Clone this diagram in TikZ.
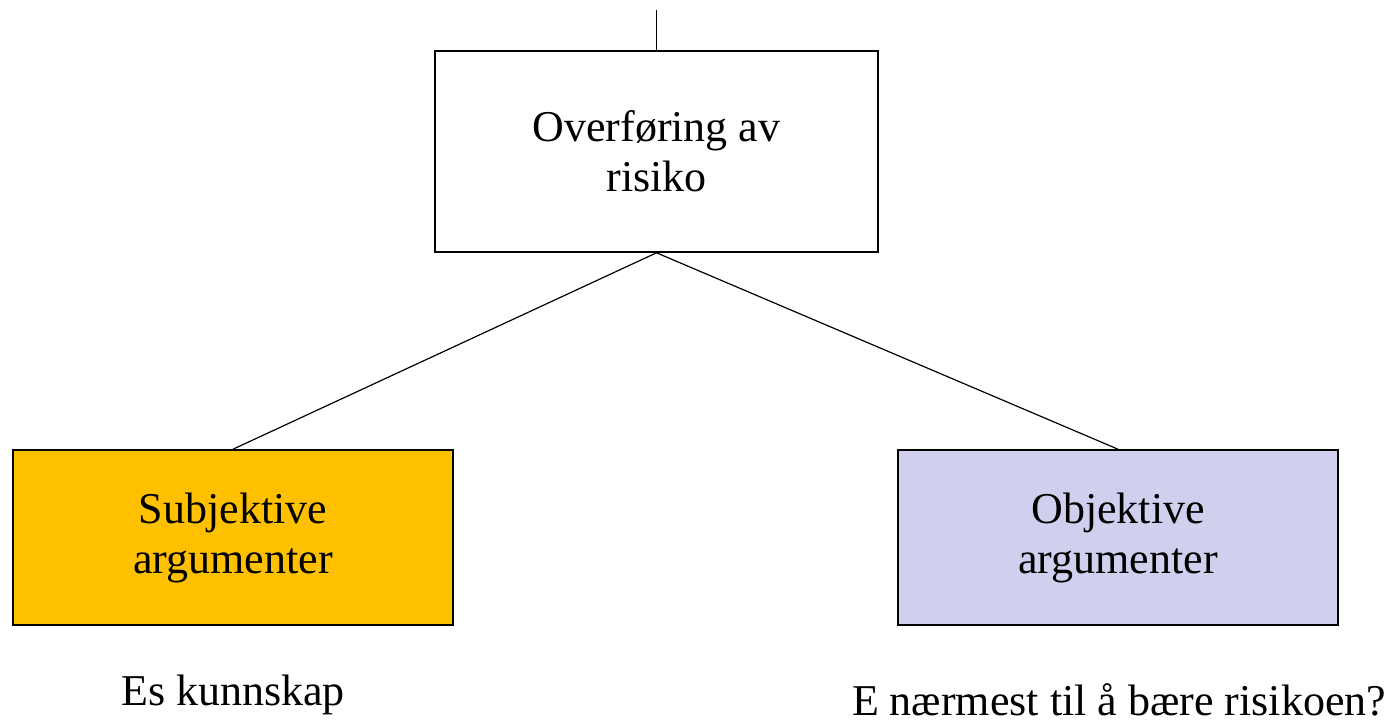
\documentclass[tikz,border=0pt]{standalone}
\usepackage{fontspec}
\setmainfont{Liberation Serif}
\usepackage{tikz}
\usetikzlibrary{positioning}
\definecolor{subjgold}{RGB}{255,192,0}
\definecolor{objlav}{RGB}{208,208,238}
\tikzset{
  main box/.style={rectangle,draw,thick,align=center,inner sep=0pt,
    font=\fontsize{22}{25}\selectfont},
  note/.style={font=\fontsize{22}{25}\selectfont,anchor=base,inner sep=0pt}
}
\begin{document}
\begin{tikzpicture}[x=0.5pt,y=-0.5pt,line width=0.6pt]
  \useasboundingbox (0,0) rectangle (1394,724);
  \node [main box,minimum width=221.5pt,minimum height=100.5pt] (risk) at (656.5,151.5) {Overføring av\\risiko};
  \node [main box,fill=subjgold,minimum width=220pt,minimum height=87.5pt] (subj) at (233,537.5) {Subjektive\\argumenter};
  \node [main box,fill=objlav,minimum width=220pt,minimum height=87.5pt] (obj) at (1118,537.5) {Objektive\\argumenter};
  \coordinate (top) at (656.5,10);
  % connectors
  \draw (top) -- (risk.north);
  \draw (risk.south) -- (subj.north);
  \draw (risk.south) -- (obj.north);
  % notes under the boxes
  \node [note] (know) at (233,705) {Es kunnskap};
  \node [note] (bear) at (1119,715) {E nærmest til å bære risikoen?};
\end{tikzpicture}
\end{document}
